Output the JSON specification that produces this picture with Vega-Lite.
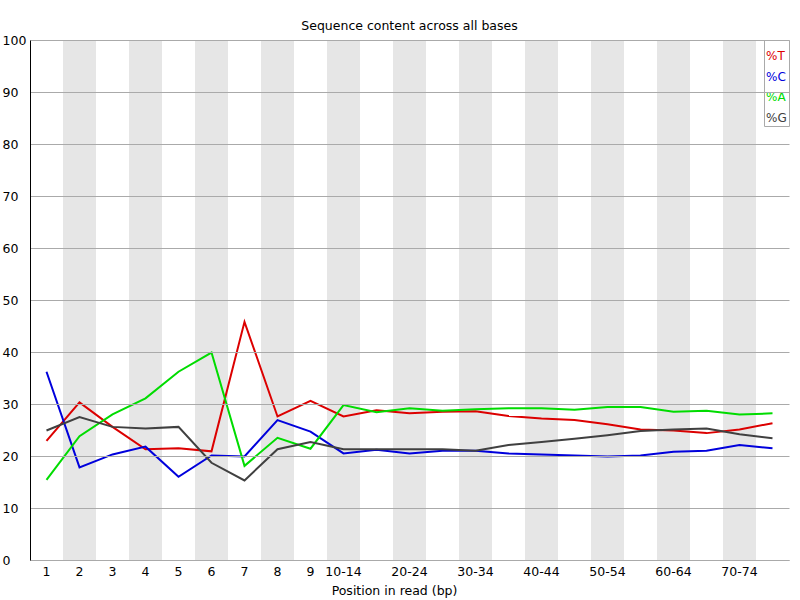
{
  "$schema": "https://vega.github.io/schema/vega-lite/v6.json",
  "description": "Sequence content across all bases",
  "autosize": "none",
  "width": 759,
  "height": 520,
  "padding": {"left": 30, "top": 40, "right": 11, "bottom": 40},
  "background": "white",
  "config": {
    "view": {"stroke": null},
    "font": "DejaVu Sans"
  },
  "title": {
    "text": "Sequence content across all bases",
    "fontSize": 12.5,
    "fontWeight": "normal",
    "color": "#000",
    "anchor": "middle",
    "offset": 2
  },
  "data": {
    "values": [
      {"pos": "1", "base": "%T", "value": 22.9}, {"pos": "1", "base": "%C", "value": 36.2}, {"pos": "1", "base": "%A", "value": 15.4}, {"pos": "1", "base": "%G", "value": 24.9},
      {"pos": "2", "base": "%T", "value": 30.3}, {"pos": "2", "base": "%C", "value": 17.8}, {"pos": "2", "base": "%A", "value": 23.8}, {"pos": "2", "base": "%G", "value": 27.5},
      {"pos": "3", "base": "%T", "value": 25.6}, {"pos": "3", "base": "%C", "value": 20.3}, {"pos": "3", "base": "%A", "value": 28.0}, {"pos": "3", "base": "%G", "value": 25.6},
      {"pos": "4", "base": "%T", "value": 21.3}, {"pos": "4", "base": "%C", "value": 21.8}, {"pos": "4", "base": "%A", "value": 31.1}, {"pos": "4", "base": "%G", "value": 25.3},
      {"pos": "5", "base": "%T", "value": 21.5}, {"pos": "5", "base": "%C", "value": 16.0}, {"pos": "5", "base": "%A", "value": 36.2}, {"pos": "5", "base": "%G", "value": 25.6},
      {"pos": "6", "base": "%T", "value": 20.9}, {"pos": "6", "base": "%C", "value": 20.1}, {"pos": "6", "base": "%A", "value": 39.9}, {"pos": "6", "base": "%G", "value": 18.7},
      {"pos": "7", "base": "%T", "value": 45.8}, {"pos": "7", "base": "%C", "value": 19.9}, {"pos": "7", "base": "%A", "value": 18.1}, {"pos": "7", "base": "%G", "value": 15.3},
      {"pos": "8", "base": "%T", "value": 27.6}, {"pos": "8", "base": "%C", "value": 26.9}, {"pos": "8", "base": "%A", "value": 23.5}, {"pos": "8", "base": "%G", "value": 21.3},
      {"pos": "9", "base": "%T", "value": 30.6}, {"pos": "9", "base": "%C", "value": 24.7}, {"pos": "9", "base": "%A", "value": 21.4}, {"pos": "9", "base": "%G", "value": 22.7},
      {"pos": "10-14", "base": "%T", "value": 27.6}, {"pos": "10-14", "base": "%C", "value": 20.5}, {"pos": "10-14", "base": "%A", "value": 29.8}, {"pos": "10-14", "base": "%G", "value": 21.3},
      {"pos": "15-19", "base": "%T", "value": 28.8}, {"pos": "15-19", "base": "%C", "value": 21.2}, {"pos": "15-19", "base": "%A", "value": 28.4}, {"pos": "15-19", "base": "%G", "value": 21.3},
      {"pos": "20-24", "base": "%T", "value": 28.2}, {"pos": "20-24", "base": "%C", "value": 20.5}, {"pos": "20-24", "base": "%A", "value": 29.2}, {"pos": "20-24", "base": "%G", "value": 21.3},
      {"pos": "25-29", "base": "%T", "value": 28.5}, {"pos": "25-29", "base": "%C", "value": 21.0}, {"pos": "25-29", "base": "%A", "value": 28.7}, {"pos": "25-29", "base": "%G", "value": 21.3},
      {"pos": "30-34", "base": "%T", "value": 28.6}, {"pos": "30-34", "base": "%C", "value": 21.0}, {"pos": "30-34", "base": "%A", "value": 29.0}, {"pos": "30-34", "base": "%G", "value": 21.0},
      {"pos": "35-39", "base": "%T", "value": 27.7}, {"pos": "35-39", "base": "%C", "value": 20.5}, {"pos": "35-39", "base": "%A", "value": 29.2}, {"pos": "35-39", "base": "%G", "value": 22.1},
      {"pos": "40-44", "base": "%T", "value": 27.2}, {"pos": "40-44", "base": "%C", "value": 20.3}, {"pos": "40-44", "base": "%A", "value": 29.2}, {"pos": "40-44", "base": "%G", "value": 22.7},
      {"pos": "45-49", "base": "%T", "value": 26.9}, {"pos": "45-49", "base": "%C", "value": 20.1}, {"pos": "45-49", "base": "%A", "value": 28.9}, {"pos": "45-49", "base": "%G", "value": 23.3},
      {"pos": "50-54", "base": "%T", "value": 26.1}, {"pos": "50-54", "base": "%C", "value": 19.9}, {"pos": "50-54", "base": "%A", "value": 29.4}, {"pos": "50-54", "base": "%G", "value": 24.0},
      {"pos": "55-59", "base": "%T", "value": 25.1}, {"pos": "55-59", "base": "%C", "value": 20.1}, {"pos": "55-59", "base": "%A", "value": 29.4}, {"pos": "55-59", "base": "%G", "value": 24.8},
      {"pos": "60-64", "base": "%T", "value": 24.9}, {"pos": "60-64", "base": "%C", "value": 20.8}, {"pos": "60-64", "base": "%A", "value": 28.5}, {"pos": "60-64", "base": "%G", "value": 25.1},
      {"pos": "65-69", "base": "%T", "value": 24.4}, {"pos": "65-69", "base": "%C", "value": 21.0}, {"pos": "65-69", "base": "%A", "value": 28.7}, {"pos": "65-69", "base": "%G", "value": 25.3},
      {"pos": "70-74", "base": "%T", "value": 25.1}, {"pos": "70-74", "base": "%C", "value": 22.1}, {"pos": "70-74", "base": "%A", "value": 28.0}, {"pos": "70-74", "base": "%G", "value": 24.2},
      {"pos": "75-76", "base": "%T", "value": 26.3}, {"pos": "75-76", "base": "%C", "value": 21.5}, {"pos": "75-76", "base": "%A", "value": 28.2}, {"pos": "75-76", "base": "%G", "value": 23.4}
    ]
  },
  "layer": [
    {
      "transform": [
        {"filter": "datum.base === '%T'"},
        {"window": [{"op": "row_number", "as": "rn"}]},
        {"filter": "datum.rn % 2 === 0"}
      ],
      "mark": {"type": "rect", "color": "#e6e6e6"},
      "encoding": {
        "x": {"field": "pos", "type": "ordinal"}
      }
    },
    {
      "mark": {"type": "line", "strokeWidth": 2, "interpolate": "linear"},
      "encoding": {
        "x": {
          "field": "pos",
          "type": "ordinal",
          "scale": {
            "domain": ["1", "2", "3", "4", "5", "6", "7", "8", "9", "10-14", "15-19", "20-24", "25-29", "30-34", "35-39", "40-44", "45-49", "50-54", "55-59", "60-64", "65-69", "70-74", "75-76"],
            "paddingInner": 0,
            "paddingOuter": 0
          },
          "axis": {
            "title": "Position in read (bp)",
            "titleFontSize": 12.5,
            "titleFontWeight": "normal",
            "titleColor": "#000",
            "titlePadding": 7,
            "titleX": 364,
            "labelAngle": 0,
            "labelAlign": "center",
            "labelBaseline": "top",
            "labelFontSize": 12.5,
            "labelColor": "#000",
            "labelPadding": 5,
            "labelOverlap": false,
            "ticks": false,
            "domainColor": "#aaaaaa",
            "grid": false,
            "labelExpr": "indexof(['15-19','25-29','35-39','45-49','55-59','65-69','75-76'], datum.value) >= 0 ? '' : datum.label"
          }
        },
        "y": {
          "field": "value",
          "type": "quantitative",
          "scale": {"domain": [0, 100], "nice": false},
          "axis": {
            "title": null,
            "values": [0, 10, 20, 30, 40, 50, 60, 70, 80, 90, 100],
            "grid": true,
            "gridColor": "#aaaaaa",
            "gridOpacity": 1,
            "domainColor": "#000",
            "ticks": false,
            "labelAlign": "left",
            "labelPadding": 28,
            "labelFontSize": 12.5,
            "labelColor": "#000",
            "zindex": 1
          }
        },
        "color": {
          "field": "base",
          "type": "nominal",
          "scale": {
            "domain": ["%T", "%C", "%A", "%G"],
            "range": ["#dc0000", "#0000dc", "#00dc00", "#404040"]
          },
          "legend": {
            "title": null,
            "orient": "top-right",
            "offset": 0,
            "padding": 2,
            "rowPadding": 0.5,
            "fillColor": "white",
            "strokeColor": "#aaaaaa",
            "symbolOpacity": 0,
            "symbolSize": 0.1,
            "symbolStrokeWidth": 0,
            "labelOffset": -12,
            "labelFontSize": 12,
            "labelBaseline": "top",
            "encode": {
              "labels": {"update": {"fill": {"scale": "color", "field": "value"}, "dy": {"value": 3}}}
            }
          }
        }
      }
    }
  ]
}
